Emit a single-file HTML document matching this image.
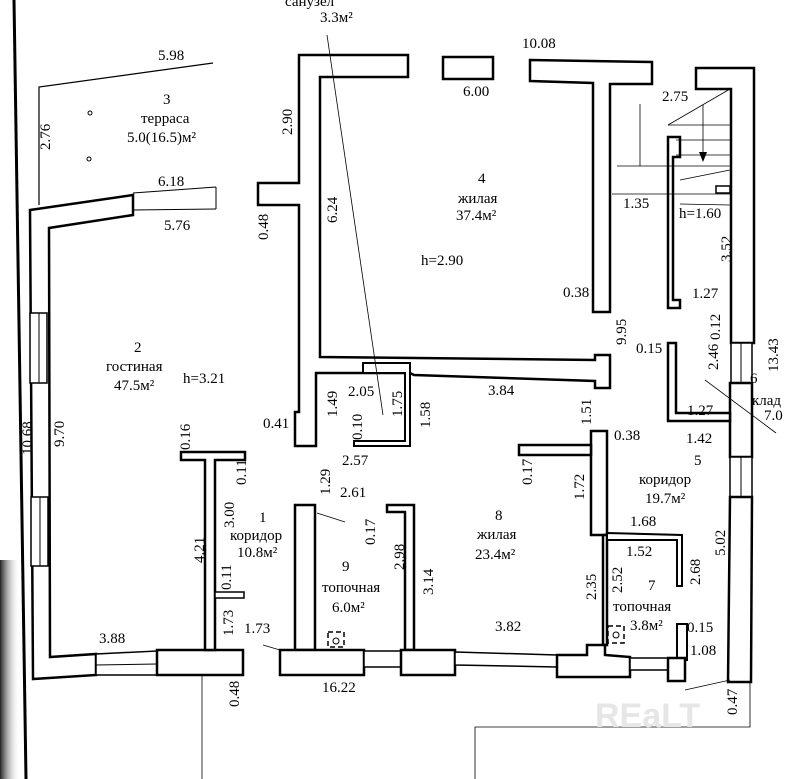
<!DOCTYPE html>
<html><head><meta charset="utf-8"><style>
html,body{margin:0;padding:0;background:#fff;width:786px;height:779px;overflow:hidden}
svg{display:block}
text{font-family:"Liberation Serif",serif;font-size:15px;fill:#000}
</style></head><body>
<svg width="786" height="779" viewBox="0 0 786 779" xmlns="http://www.w3.org/2000/svg">
<defs><linearGradient id="sh" x1="0" x2="1"><stop offset="0" stop-color="#222"/><stop offset="1" stop-color="#fff" stop-opacity="0"/></linearGradient></defs>
<rect x="0" y="560" width="20" height="219" fill="url(#sh)"/>
<line x1="14" y1="0" x2="26" y2="779" stroke="#000" stroke-width="3"/>
<g fill="#fff" stroke="#000" stroke-width="2.5">
<polyline points="39,205 39,87 213,63" fill="none" stroke-width="1.2"/>
<line x1="133" y1="193" x2="216" y2="187" stroke-width="1"/><line x1="133" y1="210" x2="216" y2="209" stroke-width="1"/><line x1="216" y1="187" x2="216" y2="209" stroke-width="1"/>
<polygon points="30,210 133,195 133,215 49,228 50,657 96,654 96,675 33,679"/>
<rect x="30" y="313" width="17" height="70" stroke-width="1.5"/>
<rect x="31" y="497" width="17" height="69" stroke-width="1.5"/>
<line x1="39" y1="313" x2="39" y2="383" stroke-width="1"/><line x1="40" y1="497" x2="40" y2="566" stroke-width="1"/>
<polygon points="96,654 157,651 157,675 96,675" stroke-width="1.5"/>
<line x1="96" y1="665" x2="157" y2="664" stroke-width="1"/>
<rect x="157" y="650" width="86" height="25"/>
<polygon points="181,452 245,452 245,460 215,460 215,650 205,650 205,460 181,460"/>
<rect x="215" y="592" width="29" height="6" stroke-width="1.5"/>
<polygon points="299,55 408,55 408,77 320,77 320,357 595,360 595,355 610,355 610,388 595,388 595,381 414,375 410,373 316,373 316,446 295,446 295,412 299,412 299,205 258,205 258,183 299,183"/>
<polygon points="363,373 363,363 410,363 410,446 354,446 354,441 405,441 405,373" stroke-width="2"/>
<rect x="443" y="57" width="50" height="22"/>
<polygon points="530,60 652,62 652,84 610,84 610,312 593,312 593,83 530,81"/>
<polygon points="696,68 754,68 754,343 731,343 731,89 696,89"/>
<rect x="731" y="343" width="21" height="40" stroke-width="1.5"/><line x1="741" y1="343" x2="741" y2="383" stroke-width="1"/>
<rect x="730" y="383" width="22" height="74"/>
<rect x="730" y="457" width="22" height="40" stroke-width="1.5"/><line x1="741" y1="457" x2="741" y2="497" stroke-width="1"/>
<polygon points="730,497 752,497 751,682 728,682"/>
<polygon points="668,137 680,137 680,157 673,157 673,300 680,300 680,308 668,308"/>
<rect x="716" y="186" width="14" height="7" stroke-width="1.5"/>
<polygon points="668,343 676,343 676,413 730,413 730,421 668,421"/>
<rect x="591" y="431" width="16" height="104"/>
<polygon points="519,445 591,445 591,455 519,455"/>
<polygon points="603,535 607,535 607,645 603,645"/>
<polygon points="607,533 682,535 682,586 677,586 677,540 607,540" stroke-width="2"/>
<rect x="677" y="624" width="10" height="36" stroke-width="2"/>
<polygon points="295,505 315,505 315,650 295,650"/>
<polygon points="387,505 414,505 414,650 405,650 405,512 387,512"/>
<rect x="280" y="650" width="84" height="25"/>
<rect x="364" y="651" width="38" height="16" stroke-width="1.5"/>
<rect x="401" y="650" width="54" height="25"/>
<polygon points="455,652 557,655 557,667 455,665" stroke-width="1.5"/>
<polygon points="557,655 587,655 587,645 605,645 605,655 630,657 630,677 557,677"/>
<rect x="630" y="658" width="38" height="12" stroke-width="1.5"/>
<rect x="668" y="658" width="17" height="23"/>
</g>
<g stroke="#000" stroke-width="0.8" fill="none">
<line x1="640" y1="104" x2="640" y2="166"/><line x1="617" y1="166" x2="730" y2="166"/>
<line x1="612" y1="194" x2="730" y2="194"/><line x1="668" y1="125" x2="730" y2="89"/>
<line x1="668" y1="125" x2="730" y2="125"/><line x1="676" y1="140" x2="730" y2="140"/><line x1="676" y1="155" x2="730" y2="155"/>
<line x1="703" y1="105" x2="703" y2="160"/>
<line x1="680" y1="180" x2="730" y2="170"/><line x1="680" y1="204" x2="730" y2="205"/>
<line x1="327" y1="35" x2="383" y2="415"/>
<line x1="685" y1="690" x2="730" y2="680"/><line x1="705" y1="380" x2="776" y2="433"/>
<line x1="202" y1="675" x2="202" y2="779"/>
<polyline points="475,779 475,727 750,727 750,682"/>
<line x1="263" y1="645" x2="280" y2="650"/><line x1="317" y1="513" x2="345" y2="522"/>
</g>
<polygon points="699,152 707,152 703,162" fill="#000"/>
<rect x="328" y="632" width="16" height="15" fill="none" stroke="#000" stroke-width="1.5" stroke-dasharray="5,3"/>
<circle cx="336" cy="641" r="3" fill="none" stroke="#000"/>
<rect x="608" y="626" width="16" height="17" fill="none" stroke="#000" stroke-width="1.5" stroke-dasharray="5,3"/>
<circle cx="616" cy="635" r="3" fill="none" stroke="#000"/>
<circle cx="90" cy="113" r="2" fill="none" stroke="#000"/><circle cx="89" cy="159" r="2" fill="none" stroke="#000"/>
<g>
<text x="285" y="6">санузел</text><text x="320" y="22">3.3м²</text>
<text x="158" y="60">5.98</text><text x="522" y="48">10.08</text><text x="463" y="96">6.00</text>
<text x="163" y="104">3</text><text x="141" y="123">терраса</text><text x="127" y="142">5.0(16.5)м²</text>
<text x="158" y="186">6.18</text><text x="164" y="230">5.76</text>
<text x="478" y="183">4</text><text x="458" y="203">жилая</text><text x="456" y="220">37.4м²</text>
<text x="421" y="265">h=2.90</text>
<text x="662" y="101">2.75</text><text x="623" y="208">1.35</text><text x="679" y="218">h=1.60</text>
<text x="692" y="298">1.27</text><text x="563" y="297">0.38</text><text x="636" y="353">0.15</text>
<text x="687" y="415">1.27</text><text x="686" y="443">1.42</text>
<text x="134" y="352">2</text><text x="106" y="371">гостиная</text><text x="114" y="390">47.5м²</text><text x="183" y="383">h=3.21</text>
<text x="348" y="396">2.05</text><text x="488" y="395">3.84</text>
<text x="263" y="428">0.41</text><text x="342" y="465">2.57</text><text x="340" y="497">2.61</text>
<text x="614" y="440">0.38</text>
<text x="694" y="465">5</text><text x="639" y="484">коридор</text><text x="645" y="503">19.7м²</text>
<text x="259" y="522">1</text><text x="230" y="540">коридор</text><text x="237" y="557">10.8м²</text>
<text x="495" y="520">8</text><text x="477" y="539">жилая</text><text x="475" y="559">23.4м²</text>
<text x="630" y="526">1.68</text><text x="626" y="556">1.52</text>
<text x="342" y="571">9</text><text x="322" y="592">топочная</text><text x="332" y="612">6.0м²</text>
<text x="648" y="590">7</text><text x="613" y="611">топочная</text><text x="630" y="630">3.8м²</text>
<text x="687" y="632">0.15</text><text x="690" y="655">1.08</text>
<text x="99" y="643">3.88</text><text x="244" y="633">1.73</text><text x="495" y="631">3.82</text><text x="322" y="692">16.22</text>
<text x="750" y="383">6</text><text x="752" y="405">клад</text><text x="764" y="420">7.0</text>
</g>
<g>
<text transform="translate(50,150) rotate(-90)">2.76</text>
<text transform="translate(292,135) rotate(-90)">2.90</text>
<text transform="translate(268,240) rotate(-90)">0.48</text>
<text transform="translate(337,223) rotate(-90)">6.24</text>
<text transform="translate(626,345) rotate(-90)">9.95</text>
<text transform="translate(731,262) rotate(-90)">3.52</text>
<text transform="translate(720,340) rotate(-90)">0.12</text>
<text transform="translate(718,370) rotate(-90)">2.46</text>
<text transform="translate(778,372) rotate(-90)">13.43</text>
<text transform="translate(337,417) rotate(-90)">1.49</text>
<text transform="translate(402,417) rotate(-90)">1.75</text>
<text transform="translate(430,428) rotate(-90)">1.58</text>
<text transform="translate(362,440) rotate(-90)">0.10</text>
<text transform="translate(591,425) rotate(-90)">1.51</text>
<text transform="translate(32,455) rotate(-90)">10.68</text>
<text transform="translate(64,447) rotate(-90)">9.70</text>
<text transform="translate(190,450) rotate(-90)">0.16</text>
<text transform="translate(246,485) rotate(-90)">0.11</text>
<text transform="translate(234,528) rotate(-90)">3.00</text>
<text transform="translate(204,563) rotate(-90)">4.21</text>
<text transform="translate(231,590) rotate(-90)">0.11</text>
<text transform="translate(233,636) rotate(-90)">1.73</text>
<text transform="translate(330,495) rotate(-90)">1.29</text>
<text transform="translate(375,545) rotate(-90)">0.17</text>
<text transform="translate(404,570) rotate(-90)">2.98</text>
<text transform="translate(433,595) rotate(-90)">3.14</text>
<text transform="translate(532,485) rotate(-90)">0.17</text>
<text transform="translate(584,500) rotate(-90)">1.72</text>
<text transform="translate(596,600) rotate(-90)">2.35</text>
<text transform="translate(622,593) rotate(-90)">2.52</text>
<text transform="translate(700,585) rotate(-90)">2.68</text>
<text transform="translate(725,556) rotate(-90)">5.02</text>
<text transform="translate(239,707) rotate(-90)">0.48</text>
<text transform="translate(737,715) rotate(-90)">0.47</text>
</g>
<text x="595" y="727" style="font-family:'Liberation Sans',sans-serif;font-size:34px;fill:#e6e6e6;font-weight:bold">REaLT</text>
</svg>
</body></html>
